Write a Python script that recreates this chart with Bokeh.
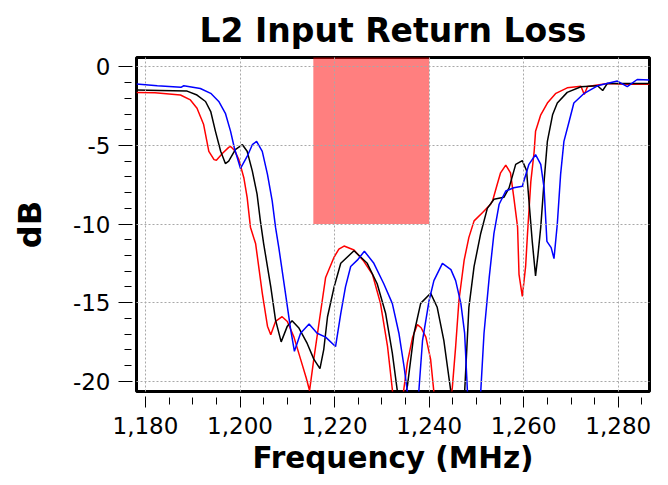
from bokeh.plotting import figure
from bokeh.models import Range1d, FixedTicker
from bokeh.embed import file_html
from bokeh.resources import INLINE

# ---- data ----
red_f = [1178.1, 1182.0, 1187.4, 1189.5, 1190.9, 1192.3, 1193.4, 1194.5, 1195.0, 1196.3, 1197.6, 1198.0,
         1198.8, 1199.75, 1200.8, 1201.5, 1202.2, 1203.3, 1204.7, 1205.8, 1206.5, 1207.5, 1208.9, 1210.0,
         1211.4, 1212.8, 1214.0, 1214.7, 1215.6, 1216.7, 1218.1, 1219.9, 1220.9, 1222.0, 1224.1, 1226.0,
         1228.0, 1229.7, 1231.2, 1232.2, 1233.5, 1234.6, 1235.4, 1236.5, 1237.5, 1238.3, 1239.3, 1240.3,
         1241.0, 1242.5, 1244.6, 1244.9, 1245.6, 1246.3, 1247.4, 1248.4, 1249.5, 1251.3, 1253.0, 1253.4,
         1254.4, 1255.1, 1256.2, 1257.2, 1257.9, 1258.7, 1259.0, 1259.7, 1260.4, 1260.8, 1261.5, 1262.2,
         1262.5, 1263.6, 1265.0, 1266.8, 1269.2, 1272.1, 1272.8, 1273.5, 1277.7, 1282.0, 1286.6]
red_db = [-1.62, -1.65, -1.79, -2.1, -2.63, -3.67, -5.37, -5.9, -5.94, -5.5, -5.12, -5.06,
          -5.3, -5.9, -7.05, -8.3, -10.2, -11.26, -14.4, -16.5, -17.05, -16.2, -15.9, -16.2,
          -17.2, -18.6, -19.8, -20.6, -18.6, -16.3, -13.4, -12.1, -11.6, -11.4, -11.65, -12.3,
          -13.2, -15.05, -17.8, -20.5, -25.0, -20.6, -18.8, -17.2, -16.4, -16.6, -17.2, -18.6,
          -20.7, -26.0, -21.0, -20.4, -17.8, -14.85, -12.3, -10.85, -9.8, -9.27, -8.74, -8.53,
          -7.47, -6.74, -6.25, -6.74, -8.3, -10.2, -13.2, -14.6, -12.7, -10.6, -7.3, -5.4,
          -4.1, -3.05, -2.3, -1.68, -1.33, -1.23, -1.75, -1.25, -1.05, -1.1, -1.1]

black_f = [1178.1, 1183.0, 1188.8, 1190.9, 1192.7, 1193.8, 1194.8, 1195.9, 1196.9, 1197.6, 1199.0, 1200.5,
           1201.5, 1202.6, 1203.6, 1204.3, 1205.0, 1206.5, 1207.5, 1208.7, 1210.0, 1211.0, 1212.4, 1214.2,
           1215.6, 1216.9, 1217.7, 1218.5, 1219.9, 1221.3, 1224.1, 1226.9, 1229.0, 1230.8, 1232.2, 1233.3,
           1234.2, 1235.1, 1235.4, 1236.8, 1238.2, 1240.3, 1241.7, 1243.1, 1244.6, 1245.8, 1247.5, 1248.4,
           1249.5, 1250.9, 1252.3, 1253.7, 1255.8, 1256.9, 1258.3, 1259.7, 1260.6, 1261.1, 1261.8, 1262.5,
           1263.0, 1263.6, 1264.3, 1265.0, 1266.1, 1267.1, 1269.2, 1272.1, 1275.6, 1276.7, 1277.7, 1286.6]
black_db = [-1.47, -1.5, -1.54, -1.79, -2.2, -2.84, -4.1, -5.37, -6.15, -6.0, -5.26, -4.95,
            -5.37, -6.63, -8.1, -9.8, -11.26, -14.0, -16.1, -17.5, -16.5, -16.15, -16.6, -17.6,
            -18.6, -19.2, -18.0, -15.9, -14.0, -12.5, -11.7, -12.5, -13.8, -15.7, -18.2, -20.7,
            -24.0, -20.7, -20.3, -16.95, -15.05, -14.4, -15.3, -17.4, -20.7, -25.0, -20.7, -15.3,
            -12.7, -10.6, -9.0, -8.42, -8.3, -7.7, -6.2, -5.96, -6.6, -8.5, -11.1, -13.3,
            -12.0, -10.2, -7.3, -4.74, -3.05, -2.3, -1.62, -1.26, -1.2, -1.5, -1.05, -1.05]

blue_f = [1178.1, 1182.5, 1187.5, 1188.1, 1191.6, 1193.8, 1195.5, 1196.9, 1198.0, 1198.8, 1200.1, 1201.5,
          1202.6, 1203.5, 1204.7, 1205.8, 1206.8, 1207.5, 1208.2, 1209.6, 1210.7, 1211.5, 1212.8, 1214.6,
          1216.3, 1218.1, 1220.2, 1221.3, 1222.3, 1223.4, 1224.8, 1226.3, 1228.3, 1230.4, 1232.2, 1233.6,
          1234.7, 1235.4, 1236.6, 1237.8, 1238.6, 1240.0, 1241.0, 1242.8, 1244.6, 1245.6, 1246.7, 1247.5,
          1248.1, 1249.5, 1250.9, 1251.6, 1252.7, 1253.7, 1254.8, 1256.2, 1257.9, 1259.7, 1261.1, 1262.5,
          1263.6, 1264.3, 1264.9, 1265.8, 1266.4, 1267.1, 1267.8, 1268.5, 1269.6, 1270.6, 1272.8, 1275.6,
          1279.8, 1281.9, 1284.0, 1286.6]
blue_db = [-1.09, -1.2, -1.3, -1.2, -1.37, -1.68, -2.2, -2.95, -4.1, -5.16, -6.46, -5.7,
           -4.95, -4.74, -5.37, -6.84, -8.53, -10.2, -11.5, -14.4, -16.7, -18.1, -16.95, -16.36,
           -16.95, -17.2, -17.8, -15.7, -14.0, -12.7, -12.3, -11.73, -12.5, -13.8, -15.05, -16.95,
           -19.1, -20.7, -25.0, -20.7, -17.4, -14.85, -13.6, -12.5, -12.9, -13.6, -15.05, -16.95,
           -20.7, -25.0, -20.7, -16.95, -13.4, -10.6, -8.74, -7.9, -7.69, -7.6, -6.2, -5.58,
           -6.2, -7.7, -11.1, -11.5, -12.2, -10.0, -6.84, -4.74, -3.47, -2.3, -1.68, -1.2,
           -0.9, -1.26, -0.8, -0.83]

band_left, band_right, band_bottom, band_top = 1215.5, 1240.0, -10.0, 2.0

x_ticks = [1180, 1200, 1220, 1240, 1260, 1280]
x_minor = [1180, 1185, 1190, 1195, 1200, 1205, 1210, 1215, 1220, 1225, 1230, 1235, 1240,
           1245, 1250, 1255, 1260, 1265, 1270, 1275, 1280, 1285]
y_ticks = [0, -5, -10, -15, -20]
y_minor = [0, -1, -2, -3, -4, -5, -6, -7, -8, -9, -10, -11, -12, -13, -14, -15, -16, -17, -18, -19, -20]

TICK_FONT = "'DejaVu Sans', sans-serif"
BOLD_FONT = "'DejaVu Sans', sans-serif"

p = figure(width=660, height=477, output_backend="svg", toolbar_location=None,
           x_range=Range1d(1178.1, 1286.6), y_range=Range1d(-20.66, 0.6),
           min_border_left=136, min_border_right=11, min_border_top=56, min_border_bottom=85,
           title="L2 Input Return Loss")

p.background_fill_color = "white"
p.border_fill_color = "white"
p.outline_line_color = "black"
p.outline_line_width = 3

p.title.text_font = BOLD_FONT
p.title.text_font_size = "33px"
p.title.text_font_style = "bold"
p.title.text_color = "black"
p.title.align = "center"
p.title.standoff = 16

p.quad(left=[band_left], right=[band_right], bottom=[band_bottom], top=[band_top],
       fill_color="#ff0000", fill_alpha=0.5, line_color=None)

p.line(red_f, red_db, line_color="#ff0000", line_width=1.5)
p.line(black_f, black_db, line_color="#000000", line_width=1.5)
p.line(blue_f, blue_db, line_color="#0000ff", line_width=1.5)

for g in (p.xgrid[0], p.ygrid[0]):
    g.grid_line_color = "#a8a8a8"
    g.grid_line_dash = "2 2"
    g.grid_line_width = 1
    g.level = "overlay"
p.xgrid[0].ticker = FixedTicker(ticks=x_ticks)
p.ygrid[0].ticker = FixedTicker(ticks=y_ticks)

xa = p.xaxis[0]
xa.ticker = FixedTicker(ticks=x_ticks, minor_ticks=x_minor)
xa.major_label_overrides = {t: f"{t:,}" for t in x_ticks}
xa.axis_label = "Frequency (MHz)"
xa.axis_label_text_font = BOLD_FONT
xa.axis_label_text_font_size = "29.5px"
xa.axis_label_text_font_style = "bold"
xa.axis_label_standoff = 4
xa.major_label_text_font = TICK_FONT
xa.major_label_text_font_size = "23px"
xa.major_label_standoff = 9

ya = p.yaxis[0]
ya.ticker = FixedTicker(ticks=y_ticks, minor_ticks=y_minor)
ya.major_label_overrides = {t: str(t) for t in y_ticks}
ya.axis_label = "dB"
ya.axis_label_text_font = BOLD_FONT
ya.axis_label_text_font_size = "32px"
ya.axis_label_text_font_style = "bold"
ya.axis_label_standoff = 21
ya.major_label_text_font = TICK_FONT
ya.major_label_text_font_size = "23px"
ya.major_label_standoff = 8
ya.major_label_orientation = "horizontal"

xa.major_tick_in = -5
xa.major_tick_out = 16
xa.minor_tick_in = -6
xa.minor_tick_out = 13
ya.major_tick_in = -4
ya.major_tick_out = 18
ya.minor_tick_in = -5
ya.minor_tick_out = 12

for a in (xa, ya):
    a.axis_line_color = None
    a.major_tick_line_color = "black"
    a.minor_tick_line_color = "black"
    a.major_tick_line_width = 1
    a.minor_tick_line_width = 1
    a.major_label_text_color = "black"
    a.axis_label_text_color = "black"

open("out.html", "w").write(file_html(p, INLINE))
